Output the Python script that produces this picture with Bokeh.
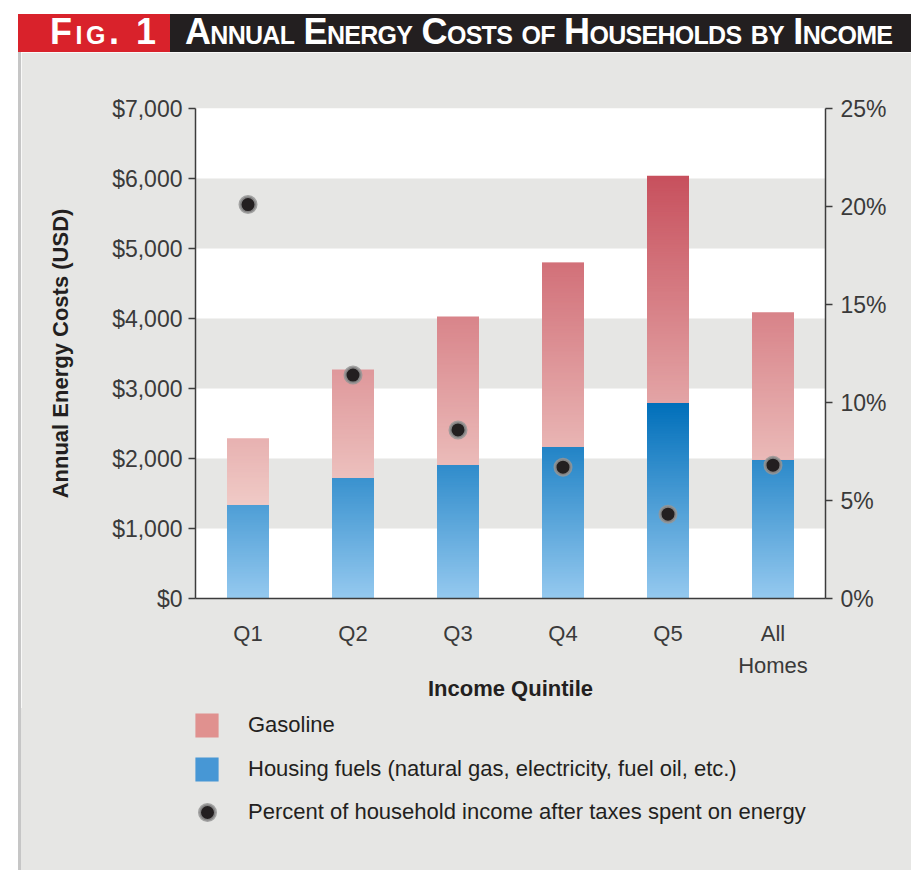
import numpy as np
from bokeh.plotting import figure
from bokeh.models import (ColumnDataSource, LinearAxis, Range1d,
                          FixedTicker, Legend, LegendItem, Div)
from bokeh.layouts import column, row
from bokeh.embed import file_html
from bokeh.resources import INLINE

# ---------------- data ----------------
categories = ["Q1", "Q2", "Q3", "Q4", "Q5", "All Homes"]
housing_fuels = [1340, 1730, 1910, 2170, 2800, 1990]
gasoline = [950, 1540, 2120, 2630, 3240, 2100]
percent_income = [20.1, 11.4, 8.6, 6.7, 4.3, 6.8]

usd_ticks = [0, 1000, 2000, 3000, 4000, 5000, 6000, 7000]
usd_tick_labels = ["$0", "$1,000", "$2,000", "$3,000", "$4,000", "$5,000", "$6,000", "$7,000"]
pct_ticks = [0, 5, 10, 15, 20, 25]
pct_tick_labels = ["0%", "5%", "10%", "15%", "20%", "25%"]
x_labels_line1 = ["Q1", "Q2", "Q3", "Q4", "Q5", "All"]
x_labels_line2 = ["", "", "", "", "", "Homes"]

title_text = "Annual Energy Costs of Households by Income"
fig_text = "Fig. 1"

# ---------------- styling helpers ----------------
FONT = "Liberation Sans"
PANEL = "#e6e6e4"
TEXT = "#231f20"
TICKTXT = "#3a3a3a"


def hex2rgb(h):
    h = h.lstrip("#")
    return np.array([int(h[i:i + 2], 16) for i in (0, 2, 4)], dtype=float)


def interp(c0, c1, t):
    t = min(max(t, 0.0), 1.0)
    c = hex2rgb(c0) * (1 - t) + hex2rgb(c1) * t
    return "#%02x%02x%02x" % tuple(int(round(v)) for v in c)


x_pos = list(range(len(categories)))

# gradient emulated with overlapping slices: every slice starts at the
# segment base; taller ones are drawn first so shorter ones cover them
STEP = 25
xs, bots, tops, cols = [], [], [], []
for xp, h, g in zip(x_pos, housing_fuels, gasoline):
    edges = list(np.arange(0, h, STEP))[1:] + [h]
    for t in sorted(edges, reverse=True):
        xs.append(xp); bots.append(0); tops.append(t)
        cols.append(interp("#95c9ef", "#006fba", (t - STEP / 2) / 2800.0))
    edges = list(np.arange(h, h + g, STEP))[1:] + [h + g]
    for t in sorted(edges, reverse=True):
        xs.append(xp); bots.append(h); tops.append(t)
        cols.append(interp("#f0cbc7", "#c7505d", ((t - STEP / 2) - 1300) / 4740.0))

slices = ColumnDataSource(dict(x=xs, bottom=bots, top=tops, color=cols))
dots = ColumnDataSource(dict(x=x_pos, y=percent_income))

# ---------------- main figure ----------------
H_TOTAL = 818
p = figure(x_range=Range1d(-0.5, len(categories) - 0.5), y_range=Range1d(0, 7000),
           frame_width=630, frame_height=490, output_backend="svg", toolbar_location=None,
           min_border_left=174, min_border_right=86, min_border_top=56,
           min_border_bottom=110)
p.extra_y_ranges = {"pct": Range1d(0, 25)}
p.background_fill_color = "white"
p.border_fill_color = PANEL
p.outline_line_color = None

p.vbar(x="x", bottom="bottom", top="top", width=0.4, source=slices,
       fill_color="color", line_color=None)

DOT = dict(size=16, fill_color="#231f20", line_color="#959595", line_width=3, line_alpha=0.85)
p.scatter(x="x", y="y", source=dots, y_range_name="pct", **DOT)

# grid bands
p.xgrid.grid_line_color = None
p.ygrid.ticker = FixedTicker(ticks=usd_ticks)
p.ygrid.grid_line_color = None
p.ygrid.band_fill_color = PANEL
p.ygrid.band_fill_alpha = 1.0
p.ygrid.level = "underlay"

# left axis
ya = p.yaxis[0]
ya.ticker = FixedTicker(ticks=usd_ticks)
ya.major_label_overrides = {t: l for t, l in zip(usd_ticks, usd_tick_labels)}
ya.minor_tick_line_color = None
ya.major_tick_out = 7
ya.major_tick_in = 0
ya.axis_line_width = 1.5
ya.axis_line_color = "#3c3c3c"
ya.major_tick_line_color = "#3c3c3c"
ya.major_tick_line_width = 1.5
ya.major_label_text_font = FONT
ya.major_label_text_font_size = "23px"
ya.major_label_text_color = TICKTXT
ya.major_label_standoff = 6
ya.axis_label = "Annual Energy Costs (USD)"
ya.axis_label_text_font = FONT
ya.axis_label_text_font_style = "bold"
ya.axis_label_text_font_size = "22px"
ya.axis_label_text_color = TEXT
ya.axis_label_standoff = 36

# right axis
ra = LinearAxis(y_range_name="pct", ticker=FixedTicker(ticks=pct_ticks))
ra.major_label_overrides = {t: l for t, l in zip(pct_ticks, pct_tick_labels)}
ra.minor_tick_line_color = None
ra.major_tick_out = 7
ra.major_tick_in = 0
ra.axis_line_width = 1.5
ra.axis_line_color = "#3c3c3c"
ra.major_tick_line_color = "#3c3c3c"
ra.major_tick_line_width = 1.5
ra.major_label_text_font = FONT
ra.major_label_text_font_size = "23px"
ra.major_label_text_color = TICKTXT
ra.major_label_standoff = 8
p.add_layout(ra, "right")

# x axis: first line of category labels
xa = p.xaxis[0]
xa.ticker = FixedTicker(ticks=x_pos)
xa.major_label_overrides = dict(zip(x_pos, x_labels_line1))
xa.major_tick_line_color = None
xa.minor_tick_line_color = None
xa.axis_line_width = 1.5
xa.axis_line_color = "#3c3c3c"
xa.major_label_text_font = FONT
xa.major_label_text_font_size = "22px"
xa.major_label_text_color = TICKTXT
xa.major_label_standoff = 16

# second line of category labels + axis title
line2_ticks = [xp for xp, l in zip(x_pos, x_labels_line2) if l]
xa2 = LinearAxis(ticker=FixedTicker(ticks=line2_ticks))
xa2.major_label_overrides = {xp: l for xp, l in zip(x_pos, x_labels_line2) if l}
xa2.axis_line_color = None
xa2.major_tick_line_color = None
xa2.minor_tick_line_color = None
xa2.major_label_text_font = FONT
xa2.major_label_text_font_size = "22px"
xa2.major_label_text_color = TICKTXT
xa2.major_label_standoff = -2
xa2.axis_label = "Income Quintile"
xa2.axis_label_text_font = FONT
xa2.axis_label_text_font_style = "bold"
xa2.axis_label_text_font_size = "22px"
xa2.axis_label_text_color = TEXT
xa2.axis_label_standoff = -5
p.add_layout(xa2, "below")

H1 = 56 + 490 + 110
H2 = H_TOTAL - H1

# ---------------- legend figure ----------------
q = figure(x_range=Range1d(0, 1), y_range=Range1d(0, 1), width=890, height=H2,
           output_backend="svg", toolbar_location=None, min_border=0)
q.axis.visible = False
q.grid.visible = False
q.background_fill_color = PANEL
q.border_fill_color = PANEL
q.outline_line_color = None

# swatch renderers: their single point lies outside the visible range
off = ColumnDataSource(dict(x=[-5], top=[-5], y=[-5]))
r_gas = q.vbar(x="x", top="top", width=0.4, source=off, fill_color="#e0918f", line_color=None)
r_hf = q.vbar(x="x", top="top", width=0.4, source=off, fill_color="#4797d5", line_color=None)
r_dot = q.scatter(x="x", y="y", source=off, **DOT)

leg1 = Legend(items=[LegendItem(label="Gasoline", renderers=[r_gas]),
                     LegendItem(label="Housing fuels (natural gas, electricity, fuel oil, etc.)", renderers=[r_hf])],
              location=(171, 86), glyph_width=29, glyph_height=30, label_standoff=27,
              spacing=14, padding=0, margin=0, border_line_color=None,
              background_fill_alpha=0, label_text_font=FONT, label_text_font_size="22px",
              label_text_color=TEXT, label_height=24)
leg2 = Legend(items=[LegendItem(label="Percent of household income after taxes spent on energy",
                                renderers=[r_dot])],
              location=(166, 38), glyph_width=40, glyph_height=40, label_standoff=21,
              spacing=0, padding=0, margin=0, border_line_color=None,
              background_fill_alpha=0, label_text_font=FONT, label_text_font_size="22px",
              label_text_color=TEXT)
q.add_layout(leg1, "center")
q.add_layout(leg2, "center")

# ---------------- header (SVG text, small caps) & panel edge ----------------
header_html = (
    '<svg width="911" height="52" xmlns="http://www.w3.org/2000/svg" style="display:block;">'
    '<rect x="18" y="14" width="152" height="38" fill="#d9222b"/>'
    '<rect x="170" y="14" width="741" height="38" fill="#231f20"/>'
    '<text x="50" y="44" fill="white" '
    'style="font-family:\'Liberation Sans\';font-weight:bold;font-size:36px;font-variant:small-caps;'
    'letter-spacing:3.5px;">'
    + fig_text + '</text>'
    '<text x="185" y="44" fill="white" '
    'style="font-family:\'Liberation Sans\';font-weight:bold;font-size:36px;font-variant:small-caps;'
    'letter-spacing:-0.7px;">'
    + title_text + '</text>'
    '</svg>'
)
header = Div(text=header_html, width=911, height=52, margin=0)


def edge(h):
    return Div(text='<div style="width:21px;height:%dpx;background:linear-gradient(to right, white 18px, '
                    '#c6c6c6 18px);"></div>' % h,
               width=21, height=h, margin=0)


layout = column(header,
                row(edge(H1), p, spacing=0, margin=0),
                row(edge(H2), q, spacing=0, margin=0, styles={"background-color": PANEL}),
                spacing=0, margin=0)

open("out.html", "w").write(file_html(layout, INLINE))
